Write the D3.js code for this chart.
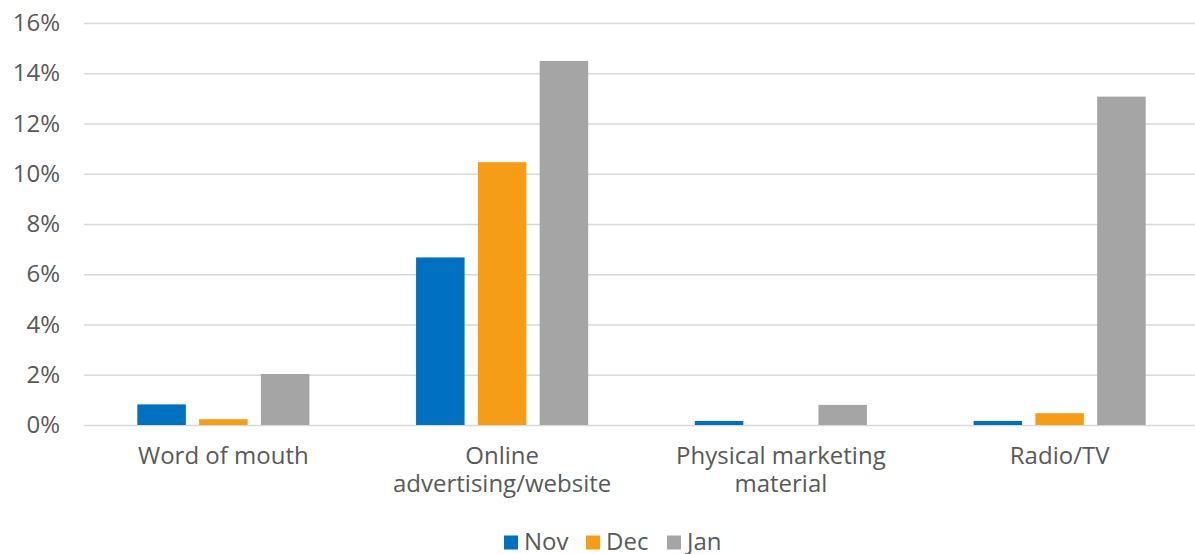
<!DOCTYPE html>
<html>
<head>
<meta charset="utf-8">
<script src="https://cdn.jsdelivr.net/npm/d3@7"></script>
<style>
  html, body { margin: 0; padding: 0; background: #fff; }
  svg { display: block; }
  text { font-family: "Open Sans", "Noto Sans", sans-serif; fill: #595959; }
</style>
</head>
<body>
<svg id="chart" width="1195" height="554"></svg>
<script>
// Share of respondents by channel, per month (%)
const categories = ["Word of mouth", "Online advertising/website", "Physical marketing material", "Radio/TV"];
const categoryLines = [["Word of mouth"], ["Online", "advertising/website"], ["Physical marketing", "material"], ["Radio/TV"]];
const seriesNames = ["Nov", "Dec", "Jan"];
const nov = [0.82, 6.67, 0.16, 0.16];
const dec = [0.23, 10.46, 0, 0.47];
const jan = [2.03, 14.49, 0.80, 13.07];
const yTicks = [0, 2, 4, 6, 8, 10, 12, 14, 16];
const colors = ["#0070C0", "#F59D16", "#A5A5A5"];

const seriesValues = [nov, dec, jan];
const W = 1195, H = 554;
const plot = { left: 84, right: 1199, top: 23, bottom: 425 };

const svg = d3.select("#chart");

const y = d3.scaleLinear().domain([0, 16]).range([plot.bottom, plot.top]);
const x0 = d3.scaleBand().domain(categories).range([plot.left, plot.right])
  .paddingInner(0.3826).paddingOuter(0.1913);
const x1 = d3.scaleBand().domain(seriesNames).range([0, x0.bandwidth()])
  .paddingInner(0.215).paddingOuter(0);

// Horizontal gridlines and percentage labels
const yAxis = d3.axisLeft(y).tickValues(yTicks).tickFormat(d => d + "%")
  .tickSize(-(W - plot.left)).tickPadding(24);
const gy = svg.append("g").attr("transform", `translate(${plot.left},0)`).call(yAxis);
gy.select(".domain").remove();
gy.selectAll(".tick line").attr("stroke", "#D9D9D9").attr("stroke-width", 1.6);
gy.selectAll(".tick text").attr("font-size", 24).style("fill", "#595959")
  .attr("font-family", "'Open Sans', sans-serif");

// Bars
const rows = categories.map((c, i) => ({ cat: c, vals: seriesNames.map((s, j) => ({ s, v: seriesValues[j][i], j })) }));
const groups = svg.append("g").selectAll("g").data(rows).join("g")
  .attr("transform", d => `translate(${x0(d.cat)},0)`);
groups.selectAll("rect").data(d => d.vals.filter(e => e.v > 0)).join("rect")
  .attr("x", d => x1(d.s))
  .attr("width", x1.bandwidth())
  .attr("y", d => y(d.v))
  .attr("height", d => y(0) - y(d.v))
  .attr("fill", d => colors[d.j]);

// Category labels
const xAxis = d3.axisBottom(x0).tickSize(0).tickFormat("");
const gx = svg.append("g").attr("transform", `translate(0,${plot.bottom})`).call(xAxis);
gx.select(".domain").remove();
gx.selectAll(".tick").each(function (d, i) {
  const t = d3.select(this).append("text").attr("text-anchor", "middle").attr("font-size", 24)
    .style("fill", "#595959");
  categoryLines[i].forEach((line, k) => {
    t.append("tspan").attr("x", 0).attr("y", 38.5 + k * 28.5).text(line);
  });
});

// Legend
const legendX = [504, 586, 667];
const legend = svg.append("g").selectAll("g").data(seriesNames).join("g")
  .attr("transform", (d, i) => `translate(${legendX[i]},535.5)`);
legend.append("rect").attr("width", 14).attr("height", 14).attr("fill", (d, i) => colors[i]);
legend.append("text").attr("x", 20).attr("y", 14).attr("font-size", 24).text(d => d);
</script>
</body>
</html>
